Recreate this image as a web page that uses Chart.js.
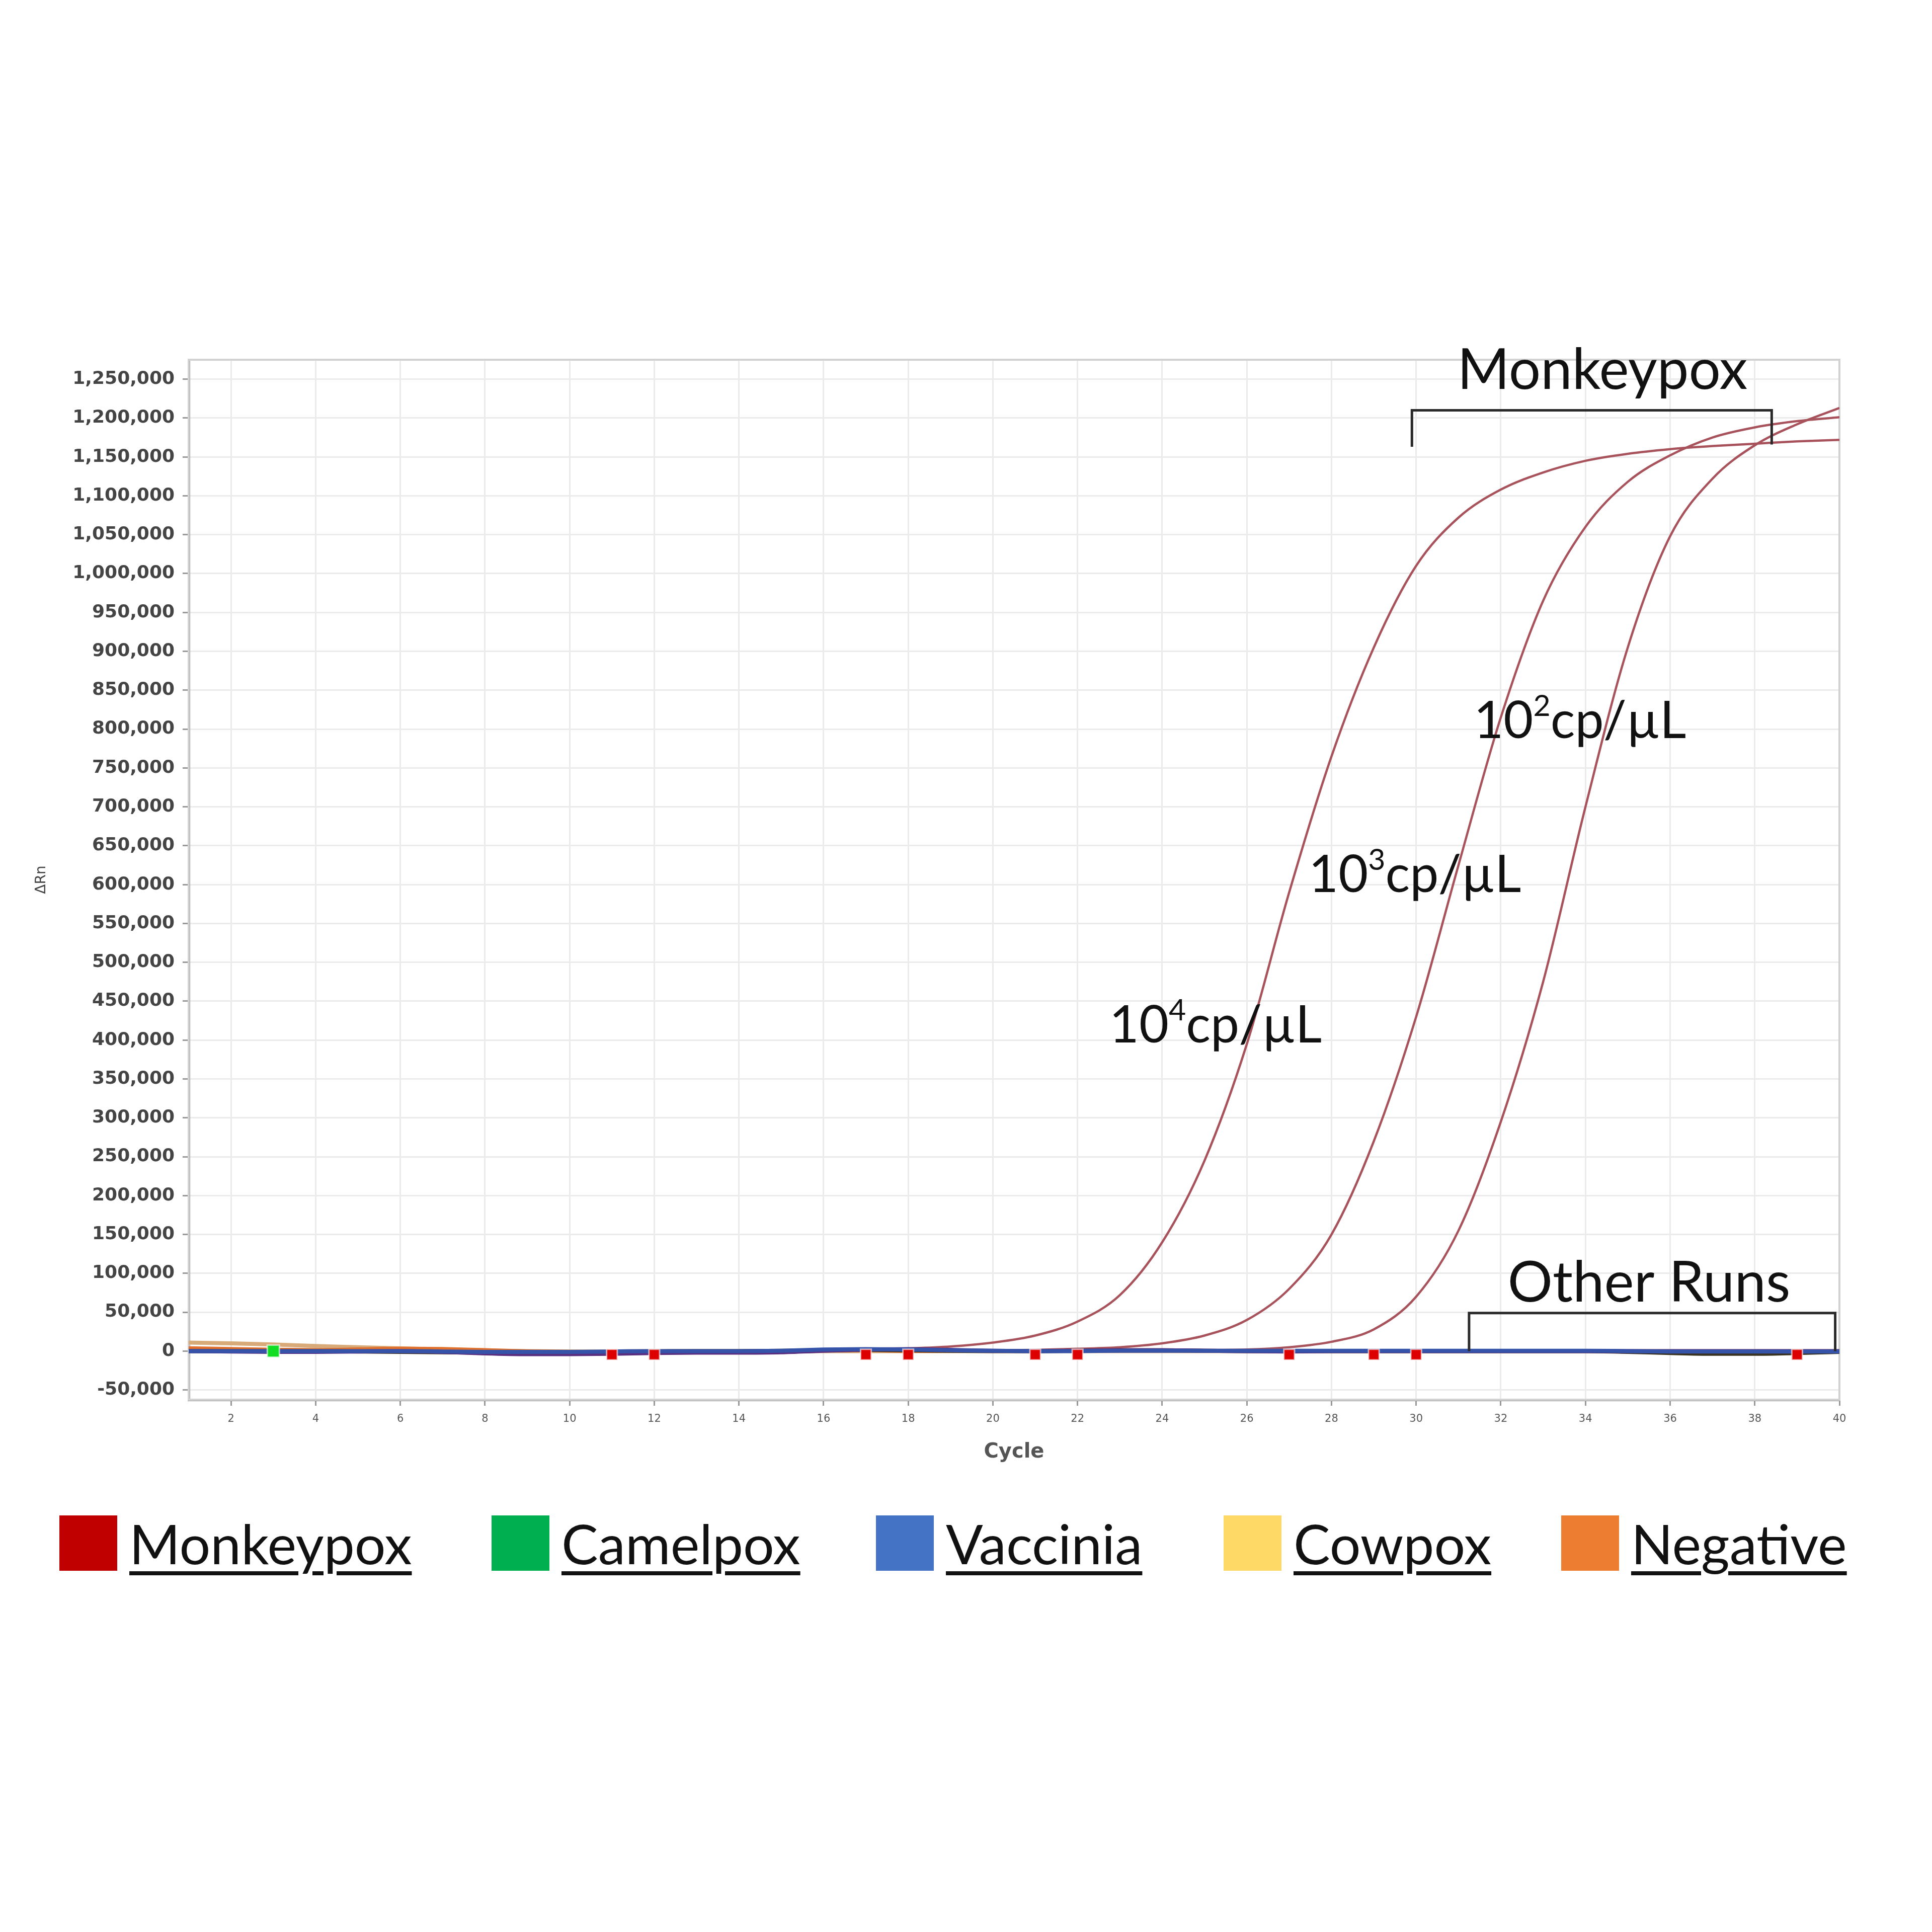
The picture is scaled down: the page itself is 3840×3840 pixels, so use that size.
<!DOCTYPE html>
<html>
<head>
<meta charset="utf-8">
<script src="https://cdn.jsdelivr.net/npm/chart.js@4.4.1/dist/chart.umd.min.js"></script>
<style>
  html, body { margin: 0; padding: 0; background: #fff; }
  #wrap { position: relative; width: 3840px; height: 3840px; }
  #qpcr { position: absolute; left: 0; top: 0; }
  #legend { position: absolute; left: 0; top: 3012px; width: 3840px; height: 110px; font-family: Lato, "Open Sans", sans-serif; font-size: 109px; color: #111; }
  .item { position: absolute; top: 0; display: flex; align-items: center; }
  .sw { width: 115px; height: 110px; margin-right: 24px; }
  .item span { text-decoration: underline; text-decoration-thickness: 8px; text-underline-offset: 14px; line-height: 110px; }
</style>
</head>
<body>
<div id="wrap">
  <canvas id="qpcr" width="3840" height="3840"></canvas>
  <div id="legend"></div>
</div>
<script>
// --- données (ΔRn par cycle) ---
const cycles = Array.from({ length: 40 }, (_, i) => i + 1);

const mpx1e4 = [3000, 2000, 1000, 500, 0, 0, -500, -1000, -1500, -1500,
  -1000, -500, 0, 500, 1000, 1500, 2000, 3500, 6000, 11000,
  20000, 38000, 72000, 140000, 245000, 395000, 590000, 765000, 905000, 1010000,
  1072000, 1108000, 1130000, 1145000, 1154000, 1160000, 1164000, 1167000, 1170000, 1172000];

const mpx1e3 = [2000, 1500, 1000, 500, 0, 0, -500, -1000, -1000, -1000,
  -500, 0, 0, 0, 500, 500, 1000, 1000, 1000, 1000,
  1500, 3000, 5000, 10000, 20000, 40000, 80000, 150000, 270000, 430000,
  625000, 815000, 965000, 1060000, 1118000, 1152000, 1175000, 1188000, 1196000, 1201000];

const mpx1e2 = [1500, 1000, 500, 0, 0, 0, -500, -500, -1000, -1000,
  -500, 0, 0, 0, 0, 500, 500, 500, 500, 500,
  500, 1000, 1000, 1500, 1500, 2000, 5000, 12000, 28000, 70000,
  155000, 295000, 475000, 700000, 905000, 1048000, 1122000, 1165000, 1192000, 1213000];

// autres essais (Camelpox, Vaccinia, Cowpox, négatifs) : restent à plat
const runTan = [11000, 10000, 8500, 6500, 5000, 3500, 2000, 1000, 0, -500,
  -500, 0, 0, 0, 0, 0, 0, 0, 0, 0,
  0, 0, 0, 0, 0, 0, 0, 0, 0, 0,
  0, 0, 0, 0, 0, 0, 0, 0, 0, 0];
const runOrange = [4000, 3000, 2000, 1500, 2500, 3500, 3000, 1500, 0, -500,
  -1000, -1000, -500, 0, 0, 500, 1000, 0, 0, 0,
  0, 0, 500, 500, 0, 0, 0, 0, 0, 0,
  0, 0, 0, 0, 0, 0, 0, 0, 0, 0];
const runDark = [0, 0, 0, 0, -500, -1000, -1500, -2000, -2000, -1500,
  -1000, -500, 0, 0, 500, 1000, 1500, 1000, 500, 0,
  0, 500, 1000, 1000, 500, 0, 0, 0, 0, 0,
  0, 0, 0, 0, -1000, -2500, -3500, -3500, -2500, -1000];
const runPurple = [0, -500, -1000, -1000, -500, 0, -1000, -3000, -4000, -4000,
  -3500, -2500, -2000, -2000, -1500, 500, 2000, 2500, 1500, 500,
  0, 500, 1000, 1000, 500, 0, -500, 0, 0, 0,
  0, 0, 0, 0, 0, 0, 0, 0, 0, 0];
const runBlue = [0, 0, 0, 0, 0, 0, -500, -1000, -1000, -1000,
  -500, 0, 0, 0, 500, 2000, 2500, 2000, 1000, 500,
  0, 0, 500, 500, 500, 500, 500, 500, 500, 500,
  500, 500, 500, 500, 0, -500, -500, -500, -500, -500];

// seuils (Ct) repérés sur la ligne de base
const ctRedCycles = [11, 12, 17, 18, 21, 22, 27, 29, 30, 39];
const ctRedValues = [-4500, -4500, -4500, -4500, -4500, -4500, -4500, -4500, -4500, -4500];
const ctGreenCycles = [3];
const ctGreenValues = [0];

// graduations
const yMin = -62500, yMax = 1275000;
const yTickValues = Array.from({ length: 27 }, (_, i) => -50000 + i * 50000);
const xTickValues = Array.from({ length: 20 }, (_, i) => 2 + i * 2);

const legendNames = ["Monkeypox", "Camelpox", "Vaccinia", "Cowpox", "Negative"];
const legendColors = ["#c00000", "#00b050", "#4472c4", "#ffd966", "#ed7d31"];
const legendLeft = [118, 977, 1741, 2432, 3103];

// --- légende (HTML) ---
const O_legend = document.getElementById("legend");
legendNames.forEach((name, i) => {
  const item = document.createElement("div");
  item.className = "item";
  item.style.left = legendLeft[i] + "px";
  const sw = document.createElement("div");
  sw.className = "sw";
  sw.style.background = legendColors[i];
  const txt = document.createElement("span");
  txt.textContent = name;
  item.appendChild(sw);
  item.appendChild(txt);
  O_legend.appendChild(item);
});

function toXY(xs, ys) {
  return xs.map((c, i) => ({ x: c, y: ys[i] }));
}

function line(values, color, width) {
  return {
    data: toXY(cycles, values),
    borderColor: color,
    borderWidth: width,
    pointRadius: 0,
    cubicInterpolationMode: "monotone",
    fill: false,
  };
}

// --- annotations : crochets et étiquettes ---
const brackets = [
  { x0: 29.9, x1: 38.4, top: 1210000, leg0: 1163000, leg1: 1166000 },
  { x0: 31.25, x1: 39.9, top: 49000, leg0: 0, leg1: 0 },
];
const notes = [
  { text: "Monkeypox", x: 34.4, y: 1261000 },
  { text: "Other Runs", x: 35.5, y: 87000 },
];
const copyLabels = [
  { exp: "4", x: 22.75, y: 418000 },
  { exp: "3", x: 27.46, y: 611500 },
  { exp: "2", x: 31.36, y: 809600 },
];
const noteFont = 112;
const copyFont = 102;
const FAMILY = 'Lato, "Open Sans", sans-serif';

const notesPlugin = {
  id: "qpcrNotes",
  beforeDatasetsDraw(chart) {
    const { ctx, chartArea: a } = chart;
    ctx.save();
    ctx.strokeStyle = "#d2d2d2";
    ctx.lineWidth = 4;
    ctx.strokeRect(a.left, a.top, a.right - a.left, a.bottom - a.top);
    ctx.restore();
  },
  afterDatasetsDraw(chart) {
    const { ctx, scales: { x, y } } = chart;
    ctx.save();
    ctx.strokeStyle = "#2a2a2a";
    ctx.lineWidth = 5;
    brackets.forEach((b) => {
      ctx.beginPath();
      ctx.moveTo(x.getPixelForValue(b.x0), y.getPixelForValue(b.leg0));
      ctx.lineTo(x.getPixelForValue(b.x0), y.getPixelForValue(b.top));
      ctx.lineTo(x.getPixelForValue(b.x1), y.getPixelForValue(b.top));
      ctx.lineTo(x.getPixelForValue(b.x1), y.getPixelForValue(b.leg1));
      ctx.stroke();
    });

    ctx.fillStyle = "#111";
    ctx.textBaseline = "middle";
    ctx.textAlign = "center";
    ctx.font = `${noteFont}px ${FAMILY}`;
    notes.forEach((n) => {
      ctx.fillText(n.text, x.getPixelForValue(n.x), y.getPixelForValue(n.y));
    });

    // 10^n cp/µL avec exposant
    ctx.textAlign = "left";
    copyLabels.forEach((l) => {
      let px = x.getPixelForValue(l.x);
      const py = y.getPixelForValue(l.y);
      ctx.font = `${copyFont}px ${FAMILY}`;
      ctx.fillText("10", px, py);
      px += ctx.measureText("10").width;
      ctx.font = `${Math.round(copyFont * 0.58)}px ${FAMILY}`;
      ctx.fillText(l.exp, px, py - copyFont * 0.3);
      px += ctx.measureText(l.exp).width;
      ctx.font = `${copyFont}px ${FAMILY}`;
      ctx.fillText("cp/µL", px, py);
    });
    ctx.restore();
  },
};

const ctx = document.getElementById("qpcr").getContext("2d");
const qpcrChart = new Chart(ctx, {
  type: "line",
  data: {
    datasets: [
      {
        type: "scatter",
        data: toXY(ctGreenCycles, ctGreenValues),
        pointStyle: "rect",
        pointRadius: 17,
        backgroundColor: "#11dd22",
        borderColor: "rgba(255,255,255,0.6)",
        borderWidth: 3,
      },
      {
        type: "scatter",
        data: toXY(ctRedCycles, ctRedValues),
        pointStyle: "rect",
        pointRadius: 15,
        backgroundColor: "#dd0000",
        borderColor: "rgba(255,255,255,0.6)",
        borderWidth: 3,
      },
      line(runBlue, "#3553a8", 8),
      line(runPurple, "#5a2f80", 8),
      line(runDark, "#3a3322", 8),
      line(runOrange, "#e0702c", 7),
      line(runTan, "#d8aa78", 8),
      line(mpx1e4, "#a8525c", 4.5),
      line(mpx1e3, "#a8525c", 4.5),
      line(mpx1e2, "#a8525c", 4.5),
    ],
  },
  options: {
    responsive: false,
    devicePixelRatio: 1,
    animation: false,
    layout: { padding: { left: 0, top: 715, right: 184, bottom: 898 } },
    plugins: { legend: { display: false }, tooltip: { enabled: false } },
    scales: {
      x: {
        type: "linear",
        min: 1,
        max: 40,
        afterFit: (s) => { s.height = 160; },
        afterBuildTicks: (s) => { s.ticks = xTickValues.map((v) => ({ value: v })); },
        ticks: {
          padding: 14,
          color: "#555",
          font: { family: "DejaVu Sans", size: 21 },
        },
        grid: { color: "#ebebeb", lineWidth: 3, tickLength: 12, tickColor: "#999" },
        border: { color: "#9a9a9a", width: 5 },
        title: {
          display: true,
          text: "Cycle",
          color: "#555",
          padding: { top: 0, bottom: 31 },
          font: { family: "DejaVu Sans", size: 40, weight: "bold" },
        },
      },
      y: {
        min: yMin,
        max: yMax,
        afterFit: (s) => { s.width = 375; },
        afterBuildTicks: (s) => { s.ticks = yTickValues.map((v) => ({ value: v })); },
        ticks: {
          padding: 16,
          color: "#444",
          font: { family: "DejaVu Sans", size: 36, weight: "bold" },
          callback: (v) => v.toLocaleString("en-US"),
        },
        grid: { color: "#ebebeb", lineWidth: 3, tickLength: 12, tickColor: "#999" },
        border: { color: "#9a9a9a", width: 5 },
        title: {
          display: true,
          text: "ΔRn",
          color: "#444",
          padding: { top: 66, bottom: 0 },
          font: { family: "DejaVu Sans", size: 28 },
        },
      },
    },
  },
  plugins: [notesPlugin],
});
</script>
</body>
</html>
